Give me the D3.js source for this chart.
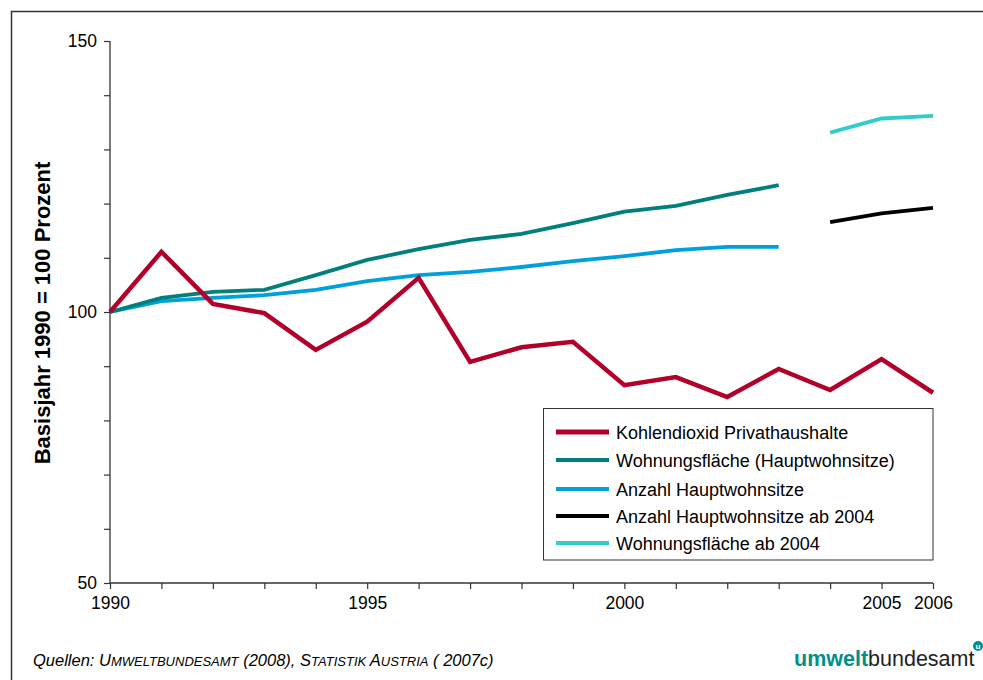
<!DOCTYPE html>
<html><head><meta charset="utf-8">
<script src="https://cdn.jsdelivr.net/npm/d3@7"></script>
<style>body{margin:0;background:#fff}svg{display:block}text{font-family:"Liberation Sans",Arial,sans-serif}</style>
</head><body>
<svg id="c" width="983" height="680"></svg>
<script>
const years = d3.range(1990, 2007);
const co2 = [100, 111.1, 101.5, 99.8, 93.0, 98.2, 106.3, 90.8, 93.5, 94.5, 86.5, 88.0, 84.3, 89.5, 85.6, 91.3, 85.1];
const flaeche = [100, 102.6, 103.7, 104.1, 106.8, 109.6, 111.6, 113.3, 114.4, 116.4, 118.5, 119.6, 121.6, 123.4];
const anzahl = [100, 102.0, 102.6, 103.1, 104.1, 105.7, 106.8, 107.4, 108.3, 109.4, 110.3, 111.4, 112.0, 112.0];
const years04 = [2004, 2005, 2006];
const anzahl04 = [116.6, 118.2, 119.2];
const flaeche04 = [133.1, 135.7, 136.2];
const xTickLabels = [1990, 1995, 2000, 2005, 2006];
const yTicks = [50, 60, 70, 80, 90, 100, 110, 120, 130, 140, 150];
const yTickLabels = [50, 100, 150];
const seriesNames = ["Kohlendioxid Privathaushalte", "Wohnungsfläche (Hauptwohnsitze)", "Anzahl Hauptwohnsitze", "Anzahl Hauptwohnsitze ab 2004", "Wohnungsfläche ab 2004"];
const colors = ["#b2002a", "#00807c", "#00a0dc", "#000000", "#33cccc"];

const svg = d3.select("#c");
// frame
svg.append("path").attr("d", "M11.5,690 V11.5 H990").attr("fill", "none").attr("stroke", "#333").attr("stroke-width", 1.5);

const x = d3.scaleLinear().domain([1990, 2006]).range([110, 933]);
const y = d3.scaleLinear().domain([50, 150]).range([583, 41]);

// axes
const yAxis = svg.append("g").attr("transform", "translate(110,0)")
  .call(d3.axisLeft(y).tickValues(yTicks).tickSize(6).tickPadding(7)
    .tickFormat(d => yTickLabels.includes(d) ? d : ""));
const xAxis = svg.append("g").attr("transform", "translate(0,583)")
  .call(d3.axisBottom(x).tickValues(years).tickSize(6).tickPadding(8)
    .tickFormat(d => xTickLabels.includes(d) ? d : ""));
[yAxis, xAxis].forEach(g => {
  g.select(".domain").attr("stroke", "#333").attr("stroke-width", 1.3);
  g.selectAll(".tick line").attr("stroke", "#333").attr("stroke-width", 1.2);
  g.selectAll("text").attr("font-size", 17.5).attr("fill", "#000").style("font-family", '"Liberation Sans",Arial,sans-serif');
});
xAxis.select(".domain").attr("d", "M110,0H933");
yAxis.select(".domain").attr("d", "M0,41V583");

const line = d3.line().x(d => x(d[0])).y(d => y(d[1]));
const data = [
  years.map((yr, i) => [yr, co2[i]]),
  flaeche.map((v, i) => [years[i], v]),
  anzahl.map((v, i) => [years[i], v]),
  years04.map((yr, i) => [yr, anzahl04[i]]),
  years04.map((yr, i) => [yr, flaeche04[i]])
];
const widths = [4.5, 3.8, 3.8, 3.8, 3.8];
const order = [2, 1, 0, 3, 4];
order.forEach(i => {
  svg.append("path").datum(data[i]).attr("d", line).attr("fill", "none")
    .attr("stroke", colors[i]).attr("stroke-width", widths[i]).attr("stroke-linejoin", "miter");
});

// y label
svg.append("text").attr("transform", "translate(50,313) rotate(-90)").attr("text-anchor", "middle")
  .attr("font-size", 22).attr("font-weight", "bold").text("Basisjahr 1990 = 100 Prozent");

// legend
const lg = svg.append("g");
lg.append("rect").attr("x", 543.5).attr("y", 408.5).attr("width", 389.5).attr("height", 151.5)
  .attr("fill", "#fff").attr("stroke", "#333").attr("stroke-width", 1);
const ly = [432, 460, 489, 516, 543];
seriesNames.forEach((n, i) => {
  lg.append("line").attr("x1", 556).attr("x2", 609).attr("y1", ly[i]).attr("y2", ly[i])
    .attr("stroke", colors[i]).attr("stroke-width", i === 0 ? 5 : 4);
  lg.append("text").attr("x", 616).attr("y", ly[i] + 6.5).attr("font-size", 18).text(n);
});

// footer
const f = svg.append("text").attr("x", 33).attr("y", 666).attr("font-size", 16.5).attr("font-style", "italic");
const parts = [["Quellen: ", 16.5], ["U", 16.5], ["MWELTBUNDESAMT", 13], [" (2008), ", 16.5], ["S", 16.5], ["TATISTIK ", 13], ["A", 16.5], ["USTRIA", 13], [" ( 2007c)", 16.5]];
parts.forEach(p => f.append("tspan").attr("font-size", p[1]).text(p[0]));

// logo
const logo = svg.append("text").attr("x", 794).attr("y", 666).attr("font-size", 21.5);
logo.append("tspan").attr("font-weight", "bold").attr("fill", "#00908a").text("umwelt");
logo.append("tspan").attr("fill", "#222").text("bundesamt");
svg.append("circle").attr("cx", 978).attr("cy", 646).attr("r", 5).attr("fill", "#00908a");
svg.append("text").attr("x", 978).attr("y", 649).attr("text-anchor", "middle").attr("font-size", 8)
  .attr("font-weight", "bold").attr("fill", "#fff").text("u");
</script>
</body></html>
